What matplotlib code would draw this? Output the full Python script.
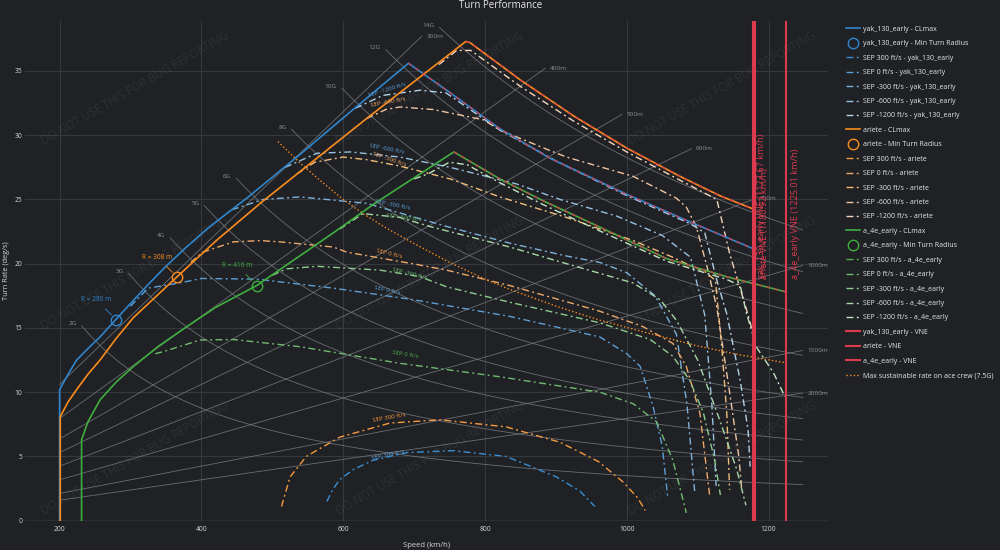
import math
import matplotlib
matplotlib.use("Agg")
import matplotlib.pyplot as plt
import numpy as np

plt.rcParams['font.family'] = ['Open Sans', 'DejaVu Sans']

# all speeds in km/h, turn rates in deg/s

# CLmax envelopes
yak_cl_v = [200, 200, 212, 224, 240, 257, 280, 300, 327, 350, 379, 410, 445, 464, 539, 614, 692, 751, 821, 892, 1000, 1100, 1177]
yak_cl_r = [0, 10.2, 11.4, 12.5, 13.4, 14.3, 15.7, 16.9, 18.5, 19.8, 21.3, 22.8, 24.3, 25.1, 28.5, 32.0, 35.6, 33.3, 30.5, 28.2, 25.4, 23.0, 21.2]
ari_cl_v = [201, 201, 212, 224, 240, 257, 280, 304, 366, 421, 483, 633, 773, 779, 850, 925, 1000, 1075, 1131, 1181]
ari_cl_r = [0, 8.1, 9.25, 10.2, 11.4, 12.5, 14.2, 15.8, 19.0, 21.8, 24.7, 31.3, 37.3, 37.2, 34.3, 31.5, 29.0, 26.8, 25.3, 24.2]
a4e_cl_v = [231, 231, 240, 257, 280, 304, 340, 374, 420, 478, 586, 642, 756, 821, 882, 960, 1056, 1140, 1225]
a4e_cl_r = [0, 6.3, 7.7, 9.4, 10.8, 12.0, 13.6, 14.9, 16.6, 18.3, 22.4, 24.6, 28.7, 26.6, 24.9, 22.9, 20.4, 19.0, 17.8]
peak_speeds = [692, 773, 756]

# min turn radius points
min_r_v = [280, 366, 478]
min_r_r = [15.65, 18.95, 18.3]
min_r_text = ["R = 286 m", "R = 308 m", "R = 416 m"]
min_r_text_v = [251, 338, 450]
min_r_text_r = [17.2, 20.5, 19.9]

# SEP curves - yak_130_early
yak_s300_v = [577, 585, 595, 615, 642, 690, 755, 830, 901, 934, 955]
yak_s300_r = [1.5, 2.4, 3.2, 4.0, 4.7, 5.3, 5.45, 5.0, 3.4, 2.3, 1.1]
yak_s0_v = [300, 325, 369, 400, 478, 586, 699, 835, 962, 1000, 1019, 1037, 1050, 1058]
yak_s0_r = [16.7, 18.1, 18.5, 18.85, 18.8, 18.1, 17.2, 15.9, 14.3, 13.0, 12.0, 8.9, 5.8, 1.7]
yak_sm300_v = [443, 487, 539, 633, 746, 835, 915, 962, 1000, 1040, 1070, 1085, 1096]
yak_sm300_r = [24.2, 25.0, 25.2, 24.7, 22.9, 21.6, 20.6, 20.1, 19.3, 17.5, 14.5, 9.0, 2.1]
yak_sm600_v = [518, 563, 610, 680, 751, 845, 906, 986, 1050, 1090, 1110, 1120, 1126]
yak_sm600_r = [27.5, 28.6, 28.7, 28.3, 27.5, 26.2, 25.0, 23.7, 22.2, 20.5, 16.0, 9.0, 2.7]
yak_sm1200_v = [617, 656, 708, 745, 821, 900, 1000, 1090, 1110, 1127, 1141, 1160, 1171, 1174]
yak_sm1200_r = [32.1, 33.1, 33.5, 33.3, 30.4, 28.0, 25.3, 23.1, 22.4, 18.7, 16.1, 10.9, 7.1, 4.2]

# SEP curves - ariete
ari_s300_v = [513, 525, 548, 595, 666, 737, 830, 906, 960, 995, 1015, 1026]
ari_s300_r = [1.1, 3.4, 5.0, 6.5, 7.6, 7.85, 7.3, 6.1, 4.6, 3.0, 1.8, 0.8]
ari_s0_v = [385, 402, 445, 483, 511, 586, 605, 708, 746, 835, 962, 1023, 1065, 1084, 1103, 1117]
ari_s0_r = [20.1, 20.9, 21.7, 21.8, 21.7, 21.3, 20.9, 19.9, 19.5, 18.3, 16.3, 15.1, 13.8, 12.0, 8.4, 1.9]
ari_sm300_v = [535, 560, 600, 633, 680, 751, 821, 915, 1009, 1065, 1084, 1110, 1125, 1134, 1141, 1145]
ari_sm300_r = [27.0, 27.9, 28.3, 28.1, 27.6, 26.6, 25.2, 23.6, 21.8, 20.5, 20.0, 19.4, 18.7, 13.5, 8.4, 2.4]
ari_sm600_v = [633, 660, 680, 727, 798, 821, 892, 915, 1009, 1070, 1084, 1098, 1113, 1127, 1145, 1158, 1162]
ari_sm600_r = [31.3, 32.0, 32.2, 32.0, 31.2, 30.4, 28.8, 28.3, 26.8, 25.1, 24.4, 22.9, 19.8, 16.6, 10.0, 5.0, 2.5]
ari_sm1200_v = [735, 760, 780, 800, 850, 925, 1000, 1075, 1127, 1145, 1169, 1181]
ari_sm1200_r = [35.5, 36.6, 36.6, 35.8, 33.8, 31.1, 28.7, 26.5, 25.0, 20.8, 16.4, 14.0]

# SEP curves - a_4e_early (no SEP 300 curve is drawn)
a4e_s0_v = [335, 346, 398, 445, 539, 680, 821, 962, 1009, 1042, 1065, 1084]
a4e_s0_r = [13.0, 13.15, 14.06, 14.1, 13.54, 12.25, 11.2, 10.0, 9.1, 7.7, 4.7, 0.6]
a4e_sm300_v = [500, 520, 563, 652, 708, 746, 835, 962, 1033, 1065, 1089, 1108, 1124, 1132]
a4e_sm300_r = [19.1, 19.6, 19.8, 19.5, 19.0, 18.2, 17.0, 15.4, 14.1, 12.8, 10.9, 8.4, 4.7, 2.0]
a4e_sm600_v = [595, 628, 680, 722, 835, 915, 1009, 1047, 1070, 1100, 1130, 1155, 1168]
a4e_sm600_r = [22.7, 23.9, 23.6, 22.9, 21.3, 20.0, 18.5, 17.2, 15.6, 12.5, 8.0, 4.0, 1.2]
a4e_sm1200_v = [700, 720, 750, 775, 821, 882, 960, 1056, 1140, 1160, 1169, 1183, 1207, 1223]
a4e_sm1200_r = [26.6, 27.0, 27.9, 27.7, 26.3, 24.6, 22.6, 20.2, 18.8, 18.3, 16.1, 13.5, 11.5, 9.65]

# VNE
vne_speeds = [1177.67, 1180.92, 1225.01]
vne_names = ["yak_130_early", "ariete", "a_4e_early"]

# max sustainable rate for an ace crew (7.5G)
max_rate_v = [508, 540, 567, 600, 628, 660, 699, 750, 800, 835, 900, 962, 1030, 1100, 1160, 1223]
max_rate_r = [29.5, 27.8, 26.5, 25.0, 23.9, 22.8, 21.6, 20.1, 18.8, 18.0, 16.7, 15.6, 14.6, 13.6, 12.9, 12.3]

# guide lines: load factor and turn radius
g_levels = [2, 3, 4, 5, 6, 8, 10, 12, 14]
g_start_v = [231, 297, 356, 404, 449, 527, 598, 660, 736]
radii = [300, 400, 500, 600, 750, 1000, 1500, 2000]
radius_end_v = [711, 885, 993, 1091, 1180, 1248, 1248, 1248]
guide_end_v = 1248

sep_names = ["SEP 300 ft/s", "SEP 0 ft/s", "SEP -300 ft/s", "SEP -600 ft/s", "SEP -1200 ft/s"]

BG = '#1f2125'
GRID = '#35383d'
TXT = '#d6d6d6'
GUIDE = '#7c7f84'
RED = '#dc3a4e'
BLUE = '#2f86cc'
ORANGE = '#fb8c1e'
GREEN = '#3fae3f'
yak_tints = ['#3a8fd4', '#5d9fd6', '#7cb1da', '#97c0df', '#b2d0e6']
ari_tints = ['#f59a3c', '#eea86a', '#f2bd7a', '#efc4a2', '#f6d6bd']
a4e_tints = ['#4caf50', '#6fbb6f', '#8dcb8d', '#a7d7a7', '#c2e4c2']
SEP_DASH = (0, (5, 2.4, 1.4, 2.4))

fig = plt.figure(figsize=(10, 5.5), dpi=100)
fig.patch.set_facecolor(BG)
ax = fig.add_axes([0.025, 0.0533, 0.803, 0.9085])
ax.set_facecolor(BG)
ax.set_xlim(151.2, 1283.8)
ax.set_ylim(0, 38.89)
for s in ax.spines.values():
    s.set_visible(False)
ax.set_xticks(range(200, 1201, 200))
ax.set_yticks(range(0, 36, 5))
ax.grid(color=GRID, lw=0.8, zorder=0)
ax.set_axisbelow(True)
ax.axhline(0, color='#5a5e64', lw=1.0, zorder=1)
ax.tick_params(axis='x', length=0, labelsize=4.9, colors=TXT, pad=4)
ax.tick_params(axis='y', length=0, labelsize=4.9, colors=TXT, pad=2)
ax.set_xlabel("Speed (km/h)", fontsize=5.5, color=TXT, labelpad=6)
ax.set_ylabel("Turn Rate (deg/s)", fontsize=5.3, color=TXT)
ax.yaxis.set_label_coords(-0.019, 0.5)
fig.text(0.501, 0.99, "Turn Performance", ha='center', va='center', fontsize=7, color='#e8e8e8')

# watermark
for py in [88, 273, 458]:
    for px in [135, 430, 722]:
        ax.text((px - 25) / 803, (520.7 - py) / 499.7, "DO NOT USE THIS FOR BUG REPORTING",
                transform=ax.transAxes, rotation=30, ha='center', va='center',
                rotation_mode='anchor', fontsize=8.3, color='white', alpha=0.07, zorder=1)

# iso-G guide lines
for n, v0 in zip(g_levels, g_start_v):
    v = np.linspace(v0, guide_end_v, 80)
    r = np.degrees(9.81 * math.sqrt(n * n - 1) / (v / 3.6))
    ax.plot(v, r, color=GUIDE, lw=0.6, alpha=0.8, zorder=1)
    ax.annotate(f"{n}G", (v0, r[0]), xytext=(-3.5, 1.5), textcoords='offset points',
                ha='right', va='center', fontsize=4.6, color='#8d9095', zorder=1)

# iso-radius guide lines
for rad, v1 in zip(radii, radius_end_v):
    v = np.array([200, v1])
    r = np.degrees((v / 3.6) / rad)
    ax.plot(v, r, color=GUIDE, lw=0.6, alpha=0.8, zorder=1)
    ax.annotate(f"{rad}m", (v1, r[-1]), xytext=(3.5, 0), textcoords='offset points',
                ha='left', va='center', fontsize=4.6, color='#8d9095', zorder=1)

handles = []

aircraft = [
    ("yak_130_early", BLUE, yak_tints, yak_cl_v, yak_cl_r,
     [(yak_s300_v, yak_s300_r), (yak_s0_v, yak_s0_r), (yak_sm300_v, yak_sm300_r),
      (yak_sm600_v, yak_sm600_r), (yak_sm1200_v, yak_sm1200_r)]),
    ("ariete", ORANGE, ari_tints, ari_cl_v, ari_cl_r,
     [(ari_s300_v, ari_s300_r), (ari_s0_v, ari_s0_r), (ari_sm300_v, ari_sm300_r),
      (ari_sm600_v, ari_sm600_r), (ari_sm1200_v, ari_sm1200_r)]),
    ("a_4e_early", GREEN, a4e_tints, a4e_cl_v, a4e_cl_r,
     [([], []), (a4e_s0_v, a4e_s0_r), (a4e_sm300_v, a4e_sm300_r),
      (a4e_sm600_v, a4e_sm600_r), (a4e_sm1200_v, a4e_sm1200_r)]),
]

for i, (name, col, tints, clv, clr, seps) in enumerate(aircraft):
    h, = ax.plot(clv, clr, color=col, lw=1.2, zorder=4, label=f"{name} - CLmax")
    handles.append(h)
    # descending part carries a red dashed limit line on top
    k = clv.index(peak_speeds[i])
    ax.plot(clv[k:], clr[k:], color=RED, lw=1.0, ls=(0, (3, 3)), alpha=0.85, zorder=4.5)
    m, = ax.plot([min_r_v[i]], [min_r_r[i]], marker='o', ms=7.5, mfc='none', mec=col,
                 mew=1.0, ls='none', zorder=6, label=f"{name} - Min Turn Radius")
    handles.append(m)
    ax.annotate(min_r_text[i], (min_r_v[i], min_r_r[i]), xytext=(min_r_text_v[i], min_r_text_r[i]),
                ha='center', va='center', fontsize=4.7, color=col, zorder=6,
                arrowprops=dict(arrowstyle='-', color=col, lw=0.6, shrinkA=3, shrinkB=5))
    for j, (sv, sr) in enumerate(seps):
        s, = ax.plot(sv, sr, color=tints[j], lw=1.0, ls=SEP_DASH, zorder=3,
                     label=f"{sep_names[j]} - {name}")
        handles.append(s)

# SEP labels along curves: text, speed, rate, angle, colour
sep_labels = [
    ("SEP -1200 ft/s", 662, 33.5, 17, yak_tints[1]),
    ("SEP -600 ft/s", 663, 32.6, 11, ari_tints[1]),
    ("SEP -600 ft/s", 662, 28.9, -11, yak_tints[1]),
    ("SEP -300 ft/s", 665, 28.1, -19, ari_tints[1]),
    ("SEP -300 ft/s", 670, 24.6, -11, yak_tints[1]),
    ("SEP -600 ft/s", 686, 23.6, -7, a4e_tints[1]),
    ("SEP 0 ft/s", 665, 20.75, -14, ari_tints[0]),
    ("SEP -300 ft/s", 693, 19.2, -14, a4e_tints[1]),
    ("SEP 0 ft/s", 662, 17.95, -12, yak_tints[1]),
    ("SEP 0 ft/s", 687, 12.9, -9, a4e_tints[0]),
    ("SEP 300 ft/s", 665, 8.0, 10, ari_tints[0]),
    ("SEP 300 ft/s", 663, 5.1, 12, yak_tints[1]),
]
for t, v, r, ang, c in sep_labels:
    ax.text(v, r, t, rotation=ang, rotation_mode='anchor', ha='center', va='center',
            fontsize=4.4, color=c, zorder=6)

# VNE lines
for name, v in zip(vne_names, vne_speeds):
    h = ax.axvline(v, color=RED, lw=1.5, zorder=5, label=f"{name} - VNE")
    handles.append(h)
    ax.text(v + 13, 18.8, f"{name} VNE ({v:.2f} km/h)", rotation=90, ha='center', va='bottom',
            fontsize=6.6, color=RED, zorder=6)

h, = ax.plot(max_rate_v, max_rate_r, color=ORANGE, lw=1.0, ls=(0, (1, 1.6)), zorder=3,
             label="Max sustainable rate on ace crew (7.5G)")
handles.append(h)

fig.legend(handles=handles, labels=[x.get_label() for x in handles], loc='upper left',
           bbox_to_anchor=(0.846, 0.953), frameon=False, fontsize=5.0, labelcolor='#e6e6e6',
           handlelength=2.05, handletextpad=0.45, labelspacing=1.07, borderpad=0, borderaxespad=0)

fig.savefig("out.png", dpi=100, facecolor=BG)
